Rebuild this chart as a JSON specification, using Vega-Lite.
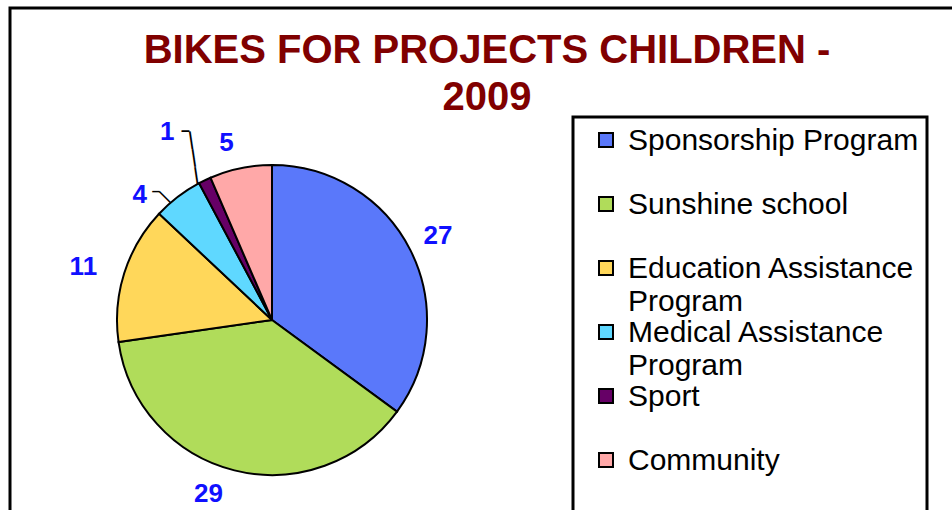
{
  "$schema": "https://vega.github.io/schema/vega-lite/v6.json",
  "autosize": {"type": "fit", "contains": "padding"},
  "width": 952,
  "height": 510,
  "padding": {"left": 10, "top": 8, "right": -10, "bottom": -40},
  "background": "white",
  "config": {
    "view": {"stroke": "black", "strokeWidth": 3},
    "legend": {"strokeWidth": 3}
  },
  "view": {"stroke": "black", "strokeWidth": 3},
  "title": {
    "text": ["BIKES FOR PROJECTS CHILDREN -", "2009"],
    "font": "Liberation Sans",
    "fontSize": 40,
    "fontWeight": "bold",
    "color": "#800000",
    "anchor": "middle",
    "lineHeight": 47,
    "offset": -110,
    "dx": 1
  },
  "data": {
    "values": [
      {"Program": "Sponsorship Program", "Bikes": 27, "Order": 1},
      {"Program": "Sunshine school", "Bikes": 29, "Order": 2},
      {"Program": "Education Assistance Program", "Bikes": 11, "Order": 3},
      {"Program": "Medical Assistance Program", "Bikes": 4, "Order": 4},
      {"Program": "Sport", "Bikes": 1, "Order": 5},
      {"Program": "Community", "Bikes": 5, "Order": 6}
    ]
  },
  "encoding": {
    "theta": {"field": "Bikes", "type": "quantitative", "stack": true},
    "order": {"field": "Order", "type": "quantitative"}
  },
  "layer": [
    {
      "mark": {"type": "arc", "outerRadius": 155, "x": 262, "y": 312, "stroke": "black", "strokeWidth": 2},
      "encoding": {
        "color": {
          "field": "Program",
          "type": "nominal",
          "scale": {
            "domain": ["Sponsorship Program", "Sunshine school", "Education Assistance Program", "Medical Assistance Program", "Sport", "Community"],
            "range": ["#5a78fa", "#b0dc5a", "#ffd75a", "#5fd8ff", "#660066", "#ffa8a8"]
          },
          "legend": {
            "orient": "none",
            "legendX": 563,
            "legendY": 109,
            "title": " ",
            "titleOrient": "left",
            "titleFontSize": 10,
            "titlePadding": 10,
            "padding": 8,
            "strokeColor": "black",
            "symbolType": "square",
            "symbolSize": 196,
            "symbolStrokeColor": "black",
            "symbolStrokeWidth": 2,
            "symbolOpacity": 1,
            "labelFont": "Liberation Sans",
            "labelFontSize": 30,
            "labelColor": "black",
            "labelBaseline": "top",
            "labelOffset": 7,
            "labelLimit": 400,
            "rowPadding": 0,
            "labelExpr": "datum.label == 'Education Assistance Program' || datum.label == 'Medical Assistance Program' ? [replace(datum.label, ' Program', ''), 'Program'] : datum.label == 'Sponsorship Program' ? ['Sponsorship Program    ', ' '] : [datum.label, ' ']",
            "encoding": {
              "labels": {"dy": {"value": -14}, "lineHeight": {"value": 33}}
            }
          }
        }
      }
    },
    {
      "mark": {"type": "point", "opacity": 0},
      "encoding": {
        "x": {"field": "Bikes", "type": "quantitative", "axis": null},
        "y": {"field": "Bikes", "type": "quantitative", "axis": null}
      }
    },
    {
      "mark": {"type": "text", "radius": 179.8, "angle": 81.6, "x": 262, "y": 312, "font": "Liberation Sans", "fontSize": 18, "fontWeight": "bold", "fill": "black"},
      "encoding": {
        "text": {"condition": {"test": "datum.Program == 'Sport'", "value": "———"}, "value": ""}
      }
    },
    {
      "mark": {"type": "text", "radius": 163, "thetaOffset": -0.059, "angle": 45, "x": 262, "y": 312, "font": "Liberation Sans", "fontSize": 16, "fontWeight": "bold", "fill": "black"},
      "encoding": {
        "text": {"condition": {"test": "datum.Program == 'Medical Assistance Program'", "value": "—"}, "value": ""}
      }
    },
    {
      "mark": {"type": "text", "radius": 208, "thetaOffset": 0.019, "x": 262, "y": 312, "font": "Liberation Sans", "fontSize": 16, "fontWeight": "bold", "fill": "black"},
      "encoding": {
        "text": {"condition": {"test": "datum.Program == 'Sport'", "value": "–"}, "value": ""}
      }
    },
    {
      "mark": {"type": "text", "radius": 173.5, "thetaOffset": -0.08, "x": 262, "y": 312, "font": "Liberation Sans", "fontSize": 15, "fontWeight": "bold", "fill": "black"},
      "encoding": {
        "text": {"condition": {"test": "datum.Program == 'Medical Assistance Program'", "value": "–"}, "value": ""}
      }
    },
    {
      "mark": {"type": "text", "radius": 186, "x": 262, "y": 312, "font": "Liberation Sans", "fontSize": 26, "fontWeight": "bold", "fill": "#1010ff"},
      "encoding": {
        "text": {"condition": {"test": "datum.Program == 'Sponsorship Program'", "field": "Bikes", "type": "quantitative"}, "value": ""}
      }
    },
    {
      "mark": {"type": "text", "radius": 185, "thetaOffset": 0.106, "x": 262, "y": 312, "font": "Liberation Sans", "fontSize": 26, "fontWeight": "bold", "fill": "#1010ff"},
      "encoding": {
        "text": {"condition": {"test": "datum.Program == 'Sunshine school'", "field": "Bikes", "type": "quantitative"}, "value": ""}
      }
    },
    {
      "mark": {"type": "text", "radius": 196, "thetaOffset": -0.031, "x": 262, "y": 312, "font": "Liberation Sans", "fontSize": 26, "fontWeight": "bold", "fill": "#1010ff"},
      "encoding": {
        "text": {"condition": {"test": "datum.Program == 'Education Assistance Program'", "field": "Bikes", "type": "quantitative"}, "value": ""}
      }
    },
    {
      "mark": {"type": "text", "radius": 182, "thetaOffset": -0.16, "x": 262, "y": 312, "font": "Liberation Sans", "fontSize": 26, "fontWeight": "bold", "fill": "#1010ff"},
      "encoding": {
        "text": {"condition": {"test": "datum.Program == 'Medical Assistance Program'", "field": "Bikes", "type": "quantitative"}, "value": ""}
      }
    },
    {
      "mark": {"type": "text", "radius": 215, "thetaOffset": -0.06, "x": 262, "y": 312, "font": "Liberation Sans", "fontSize": 26, "fontWeight": "bold", "fill": "#1010ff"},
      "encoding": {
        "text": {"condition": {"test": "datum.Program == 'Sport'", "field": "Bikes", "type": "quantitative"}, "value": ""}
      }
    },
    {
      "mark": {"type": "text", "radius": 183, "thetaOffset": -0.047, "x": 262, "y": 312, "font": "Liberation Sans", "fontSize": 26, "fontWeight": "bold", "fill": "#1010ff"},
      "encoding": {
        "text": {"condition": {"test": "datum.Program == 'Community'", "field": "Bikes", "type": "quantitative"}, "value": ""}
      }
    }
  ]
}
